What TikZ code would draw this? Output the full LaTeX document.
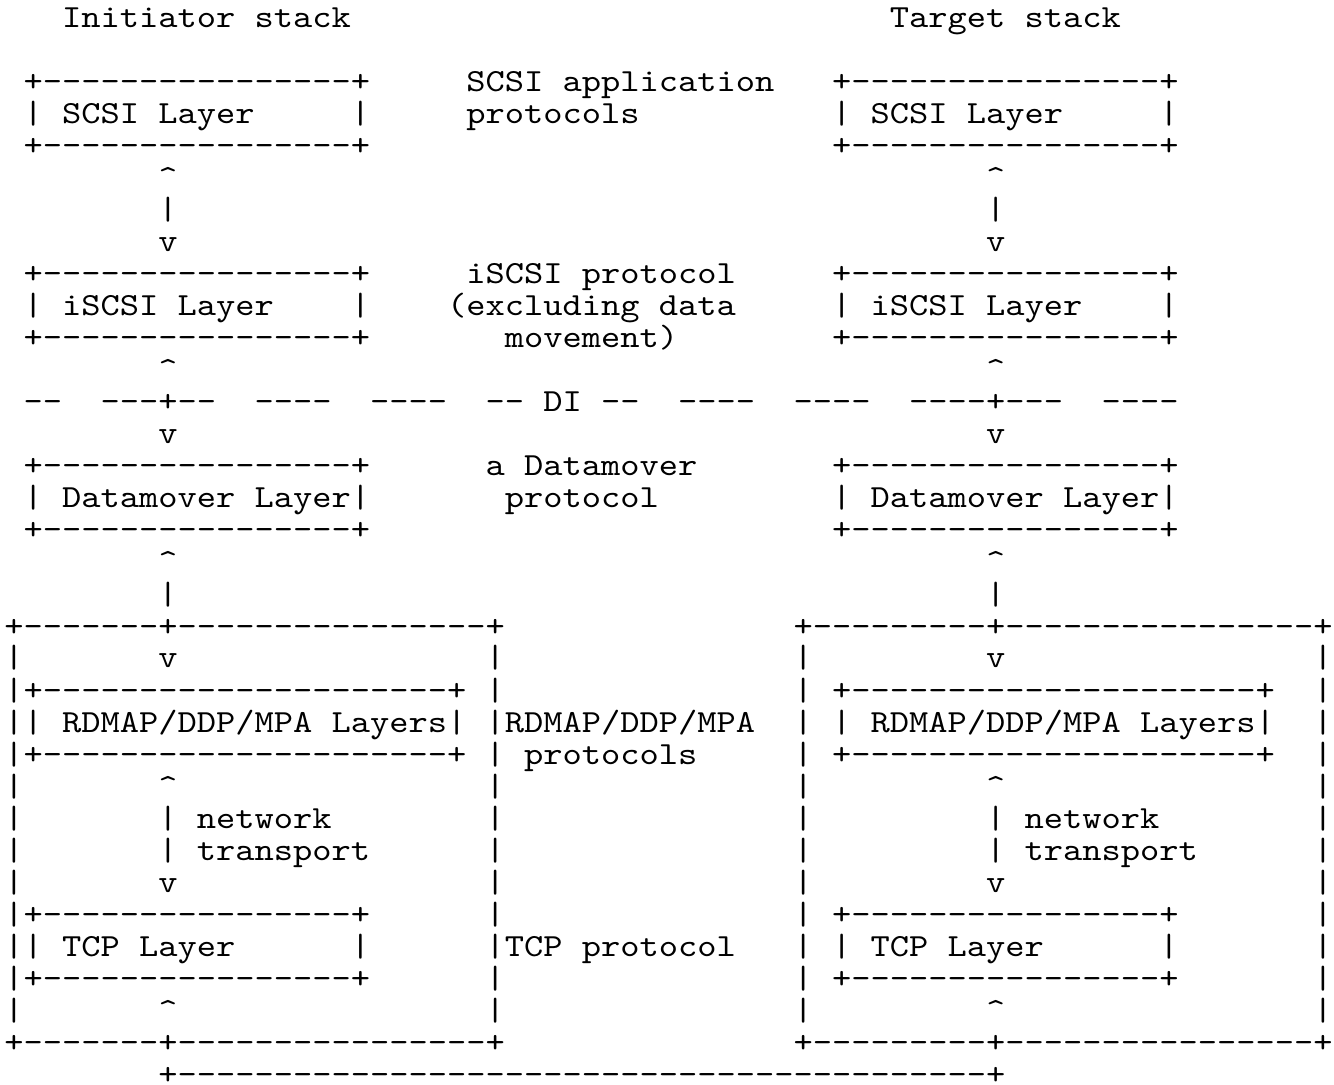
\documentclass[tikz,border=0pt]{standalone}
\usepackage{fontspec}
\setmonofont{lmmono10-regular.otf}[FakeStretch=1.13802]
\newcommand\repch[2]{\ifnum#1>0 #2\expandafter\repch\expandafter{\the\numexpr#1-1\relax}{#2}\fi}
\newcommand\bxs{+\repch{16}{-}+}
\newcommand\ibxs{+\repch{21}{-}+}
\tikzset{asc/.style={anchor=base west, inner sep=0pt, outer sep=0pt,
  font=\ttfamily\fontsize{16.11pt}{16pt}\selectfont}}
\newcommand\asg[4]{\node[asc] (#1) at ({2.2pt+#3*9.625pt},{-14pt-#2*16pt}) {#4};}
\begin{document}
\begin{tikzpicture}
\useasboundingbox (0,0) rectangle (667pt,-542.5pt);
% titles
\asg{ti}{0}{3}{Initiator~stack}
\asg{tt}{0}{46}{Target~stack}
% SCSI layer
\asg{sLt}{2}{1}{\bxs}
\asg{scA}{2}{24}{SCSI~application}
\asg{sRt}{2}{43}{\bxs}
\asg{sL}{3}{1}{|~SCSI~Layer\repch{5}{~}|}
\asg{scB}{3}{24}{protocols}
\asg{sR}{3}{43}{|~SCSI~Layer\repch{5}{~}|}
\asg{sLb}{4}{1}{\bxs}
\asg{sRb}{4}{43}{\bxs}
\asg{a1L}{5}{8}{\textasciicircum}
\asg{a1R}{5}{51}{\textasciicircum}
\asg{a2L}{6}{8}{|}
\asg{a2R}{6}{51}{|}
\asg{a3L}{7}{8}{v}
\asg{a3R}{7}{51}{v}
% iSCSI layer
\asg{iLt}{8}{1}{\bxs}
\asg{ipA}{8}{24}{iSCSI~protocol}
\asg{iRt}{8}{43}{\bxs}
\asg{iL}{9}{1}{|~iSCSI~Layer\repch{4}{~}|}
\asg{ipB}{9}{23}{(excluding~data}
\asg{iR}{9}{43}{|~iSCSI~Layer\repch{4}{~}|}
\asg{iLb}{10}{1}{\bxs}
\asg{ipC}{10}{26}{movement)}
\asg{iRb}{10}{43}{\bxs}
\asg{a4L}{11}{8}{\textasciicircum}
\asg{a4R}{11}{51}{\textasciicircum}
% DI line
\asg{d1}{12}{1}{--}
\asg{d2}{12}{5}{---+--}
\asg{d3}{12}{13}{----}
\asg{d4}{12}{19}{----}
\asg{d5}{12}{25}{--~DI~--}
\asg{d6}{12}{35}{----}
\asg{d7}{12}{41}{----}
\asg{d8}{12}{47}{----+---}
\asg{d9}{12}{57}{----}
\asg{a5L}{13}{8}{v}
\asg{a5R}{13}{51}{v}
% Datamover layer
\asg{mLt}{14}{1}{\bxs}
\asg{dmA}{14}{25}{a~Datamover}
\asg{mRt}{14}{43}{\bxs}
\asg{mL}{15}{1}{|~Datamover~Layer|}
\asg{dmB}{15}{26}{protocol}
\asg{mR}{15}{43}{|~Datamover~Layer|}
\asg{mLb}{16}{1}{\bxs}
\asg{mRb}{16}{43}{\bxs}
\asg{a6L}{17}{8}{\textasciicircum}
\asg{a6R}{17}{51}{\textasciicircum}
\asg{a7L}{18}{8}{|}
\asg{a7R}{18}{51}{|}
% outer boxes top
\asg{oLt}{19}{0}{+\repch{7}{-}+\repch{16}{-}+}
\asg{oRt}{19}{41}{+\repch{9}{-}+\repch{16}{-}+}
\asg{r20a}{20}{0}{|}
\asg{r20b}{20}{8}{v}
\asg{r20c}{20}{25}{|}
\asg{r20d}{20}{41}{|}
\asg{r20e}{20}{51}{v}
\asg{r20f}{20}{68}{|}
% RDMAP layer
\asg{r21a}{21}{0}{|\ibxs}
\asg{r21b}{21}{25}{|}
\asg{r21c}{21}{41}{|}
\asg{r21d}{21}{43}{\ibxs}
\asg{r21e}{21}{68}{|}
\asg{rL}{22}{0}{||~RDMAP/DDP/MPA~Layers|}
\asg{rpA}{22}{25}{|RDMAP/DDP/MPA}
\asg{r22c}{22}{41}{|}
\asg{rR}{22}{43}{|~RDMAP/DDP/MPA~Layers|}
\asg{r22e}{22}{68}{|}
\asg{r23a}{23}{0}{|\ibxs}
\asg{r23b}{23}{25}{|}
\asg{rpB}{23}{27}{protocols}
\asg{r23c}{23}{41}{|}
\asg{r23d}{23}{43}{\ibxs}
\asg{r23e}{23}{68}{|}
% network transport
\asg{r24a}{24}{0}{|}
\asg{r24b}{24}{8}{\textasciicircum}
\asg{r24c}{24}{25}{|}
\asg{r24d}{24}{41}{|}
\asg{r24e}{24}{51}{\textasciicircum}
\asg{r24f}{24}{68}{|}
\asg{r25a}{25}{0}{|}
\asg{ntL}{25}{8}{|~network}
\asg{r25c}{25}{25}{|}
\asg{r25d}{25}{41}{|}
\asg{ntR}{25}{51}{|~network}
\asg{r25f}{25}{68}{|}
\asg{r26a}{26}{0}{|}
\asg{tpL}{26}{8}{|~transport}
\asg{r26c}{26}{25}{|}
\asg{r26d}{26}{41}{|}
\asg{tpR}{26}{51}{|~transport}
\asg{r26f}{26}{68}{|}
\asg{r27a}{27}{0}{|}
\asg{r27b}{27}{8}{v}
\asg{r27c}{27}{25}{|}
\asg{r27d}{27}{41}{|}
\asg{r27e}{27}{51}{v}
\asg{r27f}{27}{68}{|}
% TCP layer
\asg{r28a}{28}{0}{|\bxs}
\asg{r28b}{28}{25}{|}
\asg{r28c}{28}{41}{|}
\asg{r28d}{28}{43}{\bxs}
\asg{r28e}{28}{68}{|}
\asg{cL}{29}{0}{||~TCP~Layer\repch{6}{~}|}
\asg{cpA}{29}{25}{|TCP~protocol}
\asg{r29c}{29}{41}{|}
\asg{cR}{29}{43}{|~TCP~Layer\repch{6}{~}|}
\asg{r29e}{29}{68}{|}
\asg{r30a}{30}{0}{|\bxs}
\asg{r30b}{30}{25}{|}
\asg{r30c}{30}{41}{|}
\asg{r30d}{30}{43}{\bxs}
\asg{r30e}{30}{68}{|}
\asg{r31a}{31}{0}{|}
\asg{r31b}{31}{8}{\textasciicircum}
\asg{r31c}{31}{25}{|}
\asg{r31d}{31}{41}{|}
\asg{r31e}{31}{51}{\textasciicircum}
\asg{r31f}{31}{68}{|}
% outer boxes bottom
\asg{oLb}{32}{0}{+\repch{7}{-}+\repch{16}{-}+}
\asg{oRb}{32}{41}{+\repch{9}{-}+\repch{16}{-}+}
% network link
\asg{net}{33}{8}{+\repch{42}{-}+}
\end{tikzpicture}
\end{document}
